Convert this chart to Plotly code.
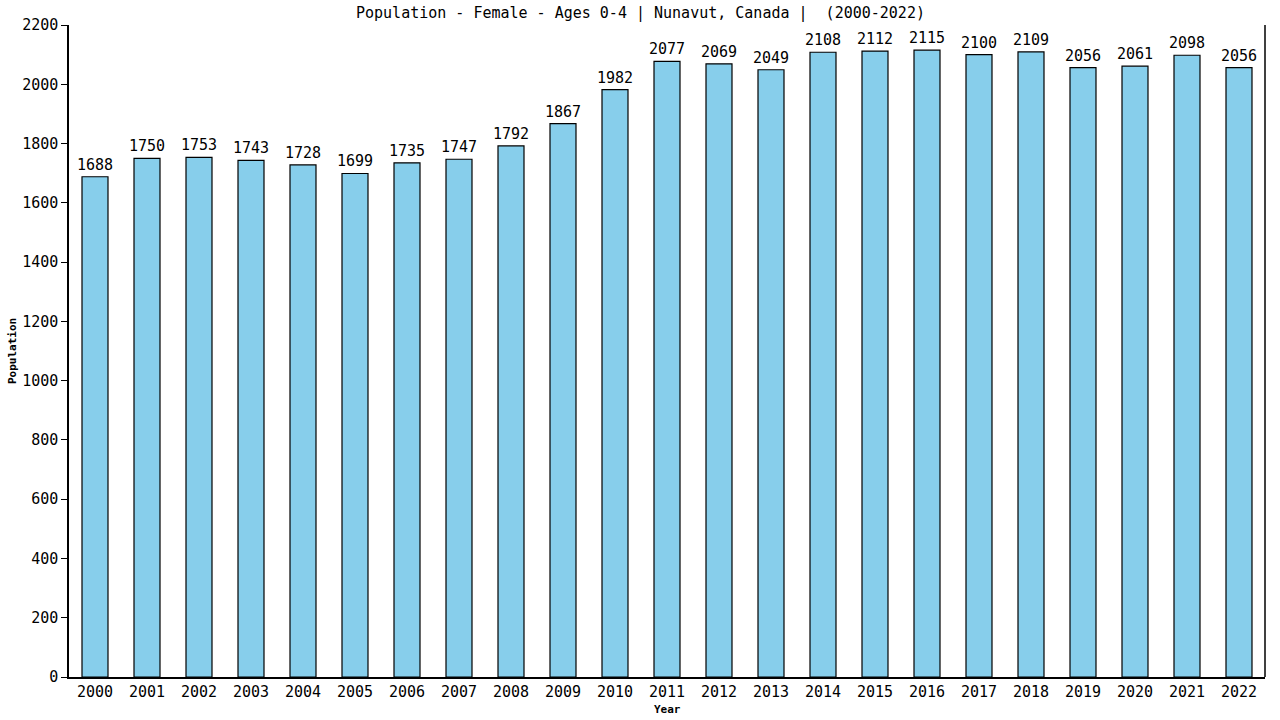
import plotly.graph_objects as go

years = [str(y) for y in range(2000, 2023)]
population = [1688, 1750, 1753, 1743, 1728, 1699, 1735, 1747, 1792, 1867, 1982,
              2077, 2069, 2049, 2108, 2112, 2115, 2100, 2109, 2056, 2061, 2098, 2056]
y_ticks = list(range(0, 2201, 200))

chart_title = "Population - Female - Ages 0-4 | Nunavut, Canada |  (2000-2022)"
mono = "DejaVu Sans Mono"

fig = go.Figure()
fig.add_trace(go.Bar(
    x=years, y=population,
    text=[str(v) for v in population], textposition="outside",
    textfont=dict(family=mono, size=15, color="black"),
    constraintext="none", cliponaxis=False,
    marker=dict(color="#87ceeb", line=dict(color="black", width=1.2)),
    width=0.5,
))

fig.update_layout(
    width=1280, height=720,
    margin=dict(l=69, r=15, t=25, b=43),
    plot_bgcolor="white", paper_bgcolor="white",
    showlegend=False,
    font=dict(family=mono, size=15, color="black"),
)
fig.update_xaxes(
    automargin=False,
    showline=True, linecolor="black", linewidth=1.5, mirror=False,
    ticks="", tickfont=dict(family=mono, size=15),
)
fig.update_yaxes(
    automargin=False,
    range=[0, 2200], tickvals=y_ticks, showgrid=False, zeroline=False,
    showline=True, linecolor="black", linewidth=1.5,
    ticks="outside", ticklen=6, tickcolor="black",
    tickfont=dict(family=mono, size=15),
)

# titles as annotations for exact placement
fig.add_annotation(text=chart_title, xref="paper", yref="paper", x=0.5, y=1,
                   xanchor="center", yanchor="middle", xshift=-27, yshift=12,
                   showarrow=False, font=dict(family=mono, size=15, color="black"))
fig.add_annotation(text="<b>Year</b>", xref="paper", yref="paper", x=0.5, y=0,
                   xanchor="center", yanchor="middle", yshift=-32, showarrow=False,
                   font=dict(family=mono, size=11, color="black"))
fig.add_annotation(text="<b>Population</b>", xref="paper", yref="paper", x=0, y=0.5,
                   xanchor="center", yanchor="middle", xshift=-57, textangle=-90,
                   showarrow=False, font=dict(family=mono, size=11, color="black"))

# right border line
fig.add_shape(type="line", xref="paper", yref="paper", x0=1, x1=1, y0=0, y1=1,
              line=dict(color="black", width=1.5))

# drop the default page margin so the figure fills the window exactly
fig.write_html("out.html", config={"displayModeBar": False},
               post_script="document.body.style.margin='0';")
